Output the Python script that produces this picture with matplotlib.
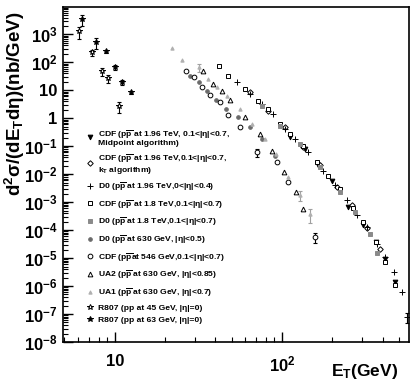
import numpy as np
import matplotlib
matplotlib.use('Agg')
import matplotlib.pyplot as plt
from matplotlib.ticker import LogLocator, FuncFormatter, NullFormatter

plt.rcParams['font.family'] = ['Liberation Sans', 'DejaVu Sans']
plt.rcParams['font.weight'] = 'bold'
plt.rcParams['mathtext.fontset'] = 'custom'
plt.rcParams['mathtext.rm'] = 'Liberation Sans:bold'
plt.rcParams['mathtext.it'] = 'Liberation Sans:bold'
plt.rcParams['mathtext.bf'] = 'Liberation Sans:bold'
plt.rcParams['mathtext.sf'] = 'Liberation Sans:bold'
plt.rcParams['mathtext.default'] = 'bf'

# ---------------- data (E_T in GeV, cross section in nb/GeV) ----------------
cdf196_mid_et = [111.6, 137.3, 164.3, 199, 248, 305, 365, 414, 475]
cdf196_mid_xs = [0.21, 0.078, 0.021, 0.0056, 6.6e-4, 1.5e-4, 3.7e-5, 9.2e-6, 1.39e-6]

cdf196_kt_et = [64.3, 82.4, 104.2, 133.6, 169, 213.5, 262, 323, 386]
cdf196_kt_xs = [8.5, 1.78, 0.48, 0.092, 0.021, 0.00344, 7.8e-4, 1.18e-4, 2.1e-5]

d0196_et = [53.8, 64.3, 75.9, 88.3, 104.2, 119.6, 143.2, 176, 207.7, 245, 281,
            323, 371, 414, 469, 523, 561]
d0196_xs = [19.3, 7.2, 3.16, 1.39, 0.40, 0.178, 0.061, 0.0128, 0.0040, 0.00118,
            3.4e-4, 1.28e-4, 3.2e-5, 1.09e-5, 3.2e-6, 6.1e-7, 7.8e-8]
d0196_err = [0, 0, 0, 0, 0, 0, 0, 0, 0, 0, 0, 0, 0, 0, 0, 0, 0.4]

cdf18_et = [42.0, 47.5, 60.0, 71.8, 82.4, 97.3, 111.6, 133.6, 162, 188, 222, 266,
            305, 365, 414, 475]
cdf18_xs = [72, 31.6, 10.9, 4.05, 2.1, 0.61, 0.27, 0.1, 0.027, 0.0085, 0.0029,
            6.1e-4, 1.93e-4, 3.7e-5, 7.2e-6, 1.09e-6]

d018_et = [75.9, 97.3, 128, 169, 222, 273.5, 336, 371]
d018_xs = [2.69, 0.52, 0.118, 0.0178, 0.00228, 4.4e-4, 7.2e-5, 1.5e-5]

d0630_et = [28.1, 31.8, 35.6, 40.3, 46.2, 54.5, 64.3, 75.9, 90.8]
d0630_xs = [31.6, 19.3, 9.2, 4.39, 2.1, 1.09, 0.48, 0.178, 0.044]

cdf546_et = [26.6, 29.7, 33.2, 37.1, 42.5, 47.5, 56.0, 70.8, 93.3, 108.6, 157.7]
cdf546_xs = [47.7, 29.1, 12.8, 6.63, 3.73, 1.28, 0.48, 0.061, 0.027, 0.0052, 5.6e-5]
cdf546_err = [0, 0, 0, 0, 0, 0, 0, 0.35, 0, 0, 0.4]

ua2_et = [33.6, 38.6, 43.7, 48.8, 60.0, 73.8, 87.1, 102.8, 121.3, 133.6]
ua2_xs = [47.7, 16.4, 9.2, 4.39, 1.09, 0.27, 0.066, 0.0118, 0.00228, 5.6e-4]

ua1_et = [21.9, 25.2, 31.8, 36.1, 40.8, 46.8, 56.0, 66.1, 79.1, 92.1, 108.6, 128, 147.1]
ua1_xs = [316, 118, 66.3, 24.7, 12.8, 6.1, 2.1, 0.61, 0.178, 0.052, 0.0078,
          0.00178, 3.7e-4]
ua1_err = [0, 0, 0.3, 0, 0, 0, 0, 0, 0, 0, 0, 0.4, 0.5]

r807_45_et = [6.08, 7.28, 8.36, 9.08, 10.6]
r807_45_xs = [1280, 228, 47.7, 26.8, 2.7]
r807_45_err = [0.45, 0.25, 0.3, 0.3, 0.45]

r807_63_et = [6.34, 7.69, 8.83, 10.0, 11.0, 12.5]
r807_63_xs = [3430, 518, 247, 66, 19.3, 8.5]
r807_63_err = [0.4, 0.4, 0.15, 0.2, 0.2, 0.15]

labels = [
    'CDF (p$\\overline{p}$ at 1.96 TeV, 0.1<|η|<0.7,\nMidpoint algorithm)',
    'CDF (p$\\overline{p}$ at 1.96 TeV,0.1<|η|<0.7,\nk$_T$ algorithm)',
    'D0 (p$\\overline{p}$ at 1.96 TeV,0<|η|<0.4)',
    'CDF (p$\\overline{p}$ at 1.8 TeV,0.1<|η|<0.7)',
    'D0 (p$\\overline{p}$ at 1.8 TeV,0.1<|η|<0.7)',
    'D0 (p$\\overline{p}$ at 630 GeV, |η|<0.5)',
    'CDF (p$\\overline{p}$at 546 GeV,0.1<|η|<0.7)',
    'UA2 (p$\\overline{p}$ at 630 GeV, |η|<0.85)',
    'UA1 (p$\\overline{p}$ at 630 GeV, |η|<0.7)',
    'R807 (pp at 45 GeV, |η|=0)',
    'R807 (pp at 63 GeV, |η|=0)',
]

# ---------------- figure ----------------
fig = plt.figure(figsize=(4.13, 3.86), dpi=100)
ax = fig.add_axes([63/413, 1-342/386, (409-63)/413, (342-7)/386])
ax.set_xscale('log')
ax.set_yscale('log')

ms = 3.4
handles = []

def series(x, y, marker, mfc, mec, size=ms, err=None, ecolor='black', label=None):
    x = np.asarray(x, float)
    y = np.asarray(y, float)
    if err is not None:
        e = np.asarray(err, float) * y
        m = e > 0
        if m.any():
            ax.errorbar(x[m], y[m], yerr=e[m], fmt='none', ecolor=ecolor,
                        elinewidth=0.8, capsize=1.6, capthick=0.8, zorder=2)
    h, = ax.plot(x, y, ls='none', marker=marker, ms=size, mfc=mfc, mec=mec,
                 mew=0.7, zorder=3, label=label)
    return h

handles.append(series(cdf196_mid_et, cdf196_mid_xs, 'v', 'black', 'black', label=labels[0]))
handles.append(series(cdf196_kt_et, cdf196_kt_xs, 'D', 'white', 'black', size=2.8, label=labels[1]))
handles.append(series(d0196_et, d0196_xs, '+', 'black', 'black', size=3.8, err=d0196_err, label=labels[2]))
handles.append(series(cdf18_et, cdf18_xs, 's', 'white', 'black', label=labels[3]))
handles.append(series(d018_et, d018_xs, 's', '#8a8a8a', '#8a8a8a', label=labels[4]))
handles.append(series(d0630_et, d0630_xs, 'o', '#6a6a6a', '#6a6a6a', size=2.6, label=labels[5]))
handles.append(series(cdf546_et, cdf546_xs, 'o', 'white', 'black', err=cdf546_err, label=labels[6]))
handles.append(series(ua2_et, ua2_xs, '^', 'white', 'black', label=labels[7]))
handles.append(series(ua1_et, ua1_xs, '^', '#b0b0b0', '#b0b0b0', size=2.4, err=ua1_err,
                      ecolor='#a0a0a0', label=labels[8]))
handles.append(series(r807_45_et, r807_45_xs, '*', 'white', 'black', size=4.4, err=r807_45_err, label=labels[9]))
handles.append(series(r807_63_et, r807_63_xs, '*', 'black', 'black', size=4.4, err=r807_63_err, label=labels[10]))

ax.set_xlim(4.9, 575)
ax.set_ylim(1e-8, 9.5e3)

def fmt(v, pos):
    e = int(round(np.log10(v)))
    if e == 0:
        return '1'
    if e == 1:
        return '10'
    return r'$10^{%d}$' % e

ax.yaxis.set_major_locator(LogLocator(base=10, numticks=20))
ax.yaxis.set_minor_locator(LogLocator(base=10, subs=np.arange(2, 10), numticks=20))
ax.yaxis.set_major_formatter(FuncFormatter(fmt))
ax.yaxis.set_minor_formatter(NullFormatter())
ax.xaxis.set_major_locator(LogLocator(base=10, numticks=10))
ax.xaxis.set_minor_locator(LogLocator(base=10, subs=np.arange(2, 10), numticks=10))
ax.xaxis.set_major_formatter(FuncFormatter(fmt))
ax.xaxis.set_minor_formatter(NullFormatter())

ax.tick_params(which='both', direction='in', top=False, right=False, width=1.0)
ax.tick_params(which='major', length=7, labelsize=12, pad=4)
ax.tick_params(axis='x', which='major', pad=9)
ax.tick_params(which='minor', length=3.5, width=0.8)
for s in ax.spines.values():
    s.set_linewidth(1.2)

ax.set_ylabel(r'd$^2\sigma$/(dE$_T$d$\eta$)(nb/GeV)', fontsize=13.5, fontweight='bold')
ax.yaxis.set_label_coords(-0.105, 0.71)
ax.set_xlabel(r'E$_T$(GeV)', fontsize=12.5, fontweight='bold')
ax.xaxis.set_label_coords(0.872, -0.06)

leg = ax.legend(handles=handles, loc='upper left', bbox_to_anchor=(0.065, 0.64),
                frameon=False, numpoints=1, handlelength=1.0,
                handletextpad=0.5, labelspacing=0.55, borderpad=0, borderaxespad=0,
                prop={'weight': 'bold', 'size': 6.1})
for t in leg.get_texts():
    t.set_linespacing(0.95)

fig.savefig('out.png', dpi=100)
